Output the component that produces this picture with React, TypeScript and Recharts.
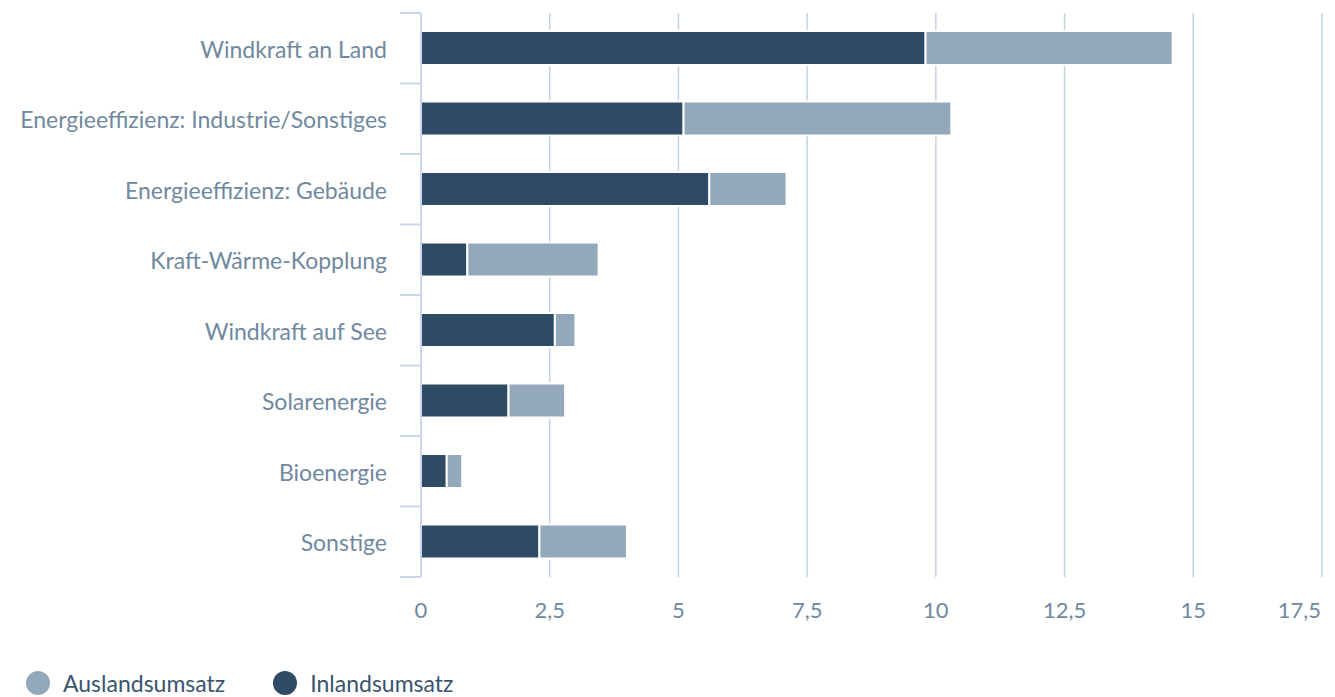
import { BarChart, Bar, XAxis, YAxis, CartesianGrid, Legend } from 'recharts';

const categories = [
  'Windkraft an Land',
  'Energieeffizienz: Industrie/Sonstiges',
  'Energieeffizienz: Gebäude',
  'Kraft-Wärme-Kopplung',
  'Windkraft auf See',
  'Solarenergie',
  'Bioenergie',
  'Sonstige',
];
const inland = [9.8, 5.1, 5.6, 0.9, 2.6, 1.7, 0.5, 2.3];
const ausland = [4.8, 5.2, 1.5, 2.55, 0.4, 1.1, 0.3, 1.7];
const xTicks = [0, 2.5, 5, 7.5, 10, 12.5, 15, 17.5];

const data = categories.map((name, i) => ({ name, inland: inland[i], ausland: ausland[i] }));

const DARK = '#2e4a64';
const LIGHT = '#93a8ba';
const AXIS = '#ccd6eb';
const GRID = '#c4d2de';
const LABEL = '#7089a0';
const FONT = 'Lato, "Source Sans Pro", sans-serif';

const CHART_W = 1335;
const CHART_H = 697;
const TOP = 13;
const LEGEND_H = 40;
const XAXIS_H = 80;
// height of one category band
const BAND = (CHART_H - TOP - LEGEND_H - XAXIS_H) / categories.length;

const CategoryTick = (props: any) => {
  const { x, y, payload, index } = props;
  return (
    <g>
      <line x1={x + 13} x2={x + 34} y1={y - BAND / 2} y2={y - BAND / 2} stroke={AXIS} strokeWidth={2} />
      {index === categories.length - 1 && (
        <line x1={x + 13} x2={x + 34} y1={y + BAND / 2} y2={y + BAND / 2} stroke={AXIS} strokeWidth={2} />
      )}
      <text x={x} y={y + 1} dy="0.36em" textAnchor="end" fill={LABEL} fontSize={23} fontFamily={FONT}>
        {payload.value}
      </text>
    </g>
  );
};

const ValueTick = (props: any) => {
  const { x, y, payload, index } = props;
  const last = index === xTicks.length - 1;
  return (
    <text x={x} y={y} dy="0.71em" textAnchor={last ? 'end' : 'middle'} fill={LABEL} fontSize={22} fontFamily={FONT}>
      {String(payload.value).replace('.', ',')}
    </text>
  );
};

const LegendContent = (props: any) => {
  const items = props.payload || [];
  return (
    <div style={{ display: 'flex', height: LEGEND_H, paddingTop: 14, boxSizing: 'border-box', paddingLeft: 26 }}>
      {items.map((item: any) => (
        <div key={item.value} style={{ display: 'flex', alignItems: 'center', marginRight: 48, height: 24 }}>
          <span style={{ width: 24, height: 24, borderRadius: 12, background: item.color, display: 'inline-block', marginRight: 13 }} />
          <span style={{ color: '#3a546e', fontSize: 23, fontFamily: FONT }}>{item.value}</span>
        </div>
      ))}
    </div>
  );
};

export default function App() {
  return (
    <div style={{ position: 'absolute', left: 0, top: 0, background: '#fff' }}>
      <BarChart
        width={CHART_W}
        height={CHART_H}
        data={data}
        layout="vertical"
        margin={{ top: TOP, right: 13, left: 0, bottom: 0 }}
        barCategoryGap={0}
      >
        <CartesianGrid horizontal={false} stroke={GRID} strokeWidth={1.5} />
        <XAxis
          type="number"
          domain={[0, 17.5]}
          ticks={xTicks}
          axisLine={false}
          tickLine={false}
          height={XAXIS_H}
          tickMargin={19}
          tick={<ValueTick />}
        />
        <YAxis
          type="category"
          dataKey="name"
          width={421}
          axisLine={{ stroke: AXIS, strokeWidth: 2 }}
          tickLine={false}
          tickSize={0}
          tickMargin={34}
          interval={0}
          tick={<CategoryTick />}
        />
        <Legend verticalAlign="bottom" align="left" content={<LegendContent />} />
        <Bar dataKey="inland" name="Inlandsumsatz" stackId="a" fill={DARK} stroke="#fff" strokeWidth={2} barSize={34} isAnimationActive={false} />
        <Bar dataKey="ausland" name="Auslandsumsatz" stackId="a" fill={LIGHT} stroke="#fff" strokeWidth={2} barSize={34} isAnimationActive={false} />
      </BarChart>
    </div>
  );
}
